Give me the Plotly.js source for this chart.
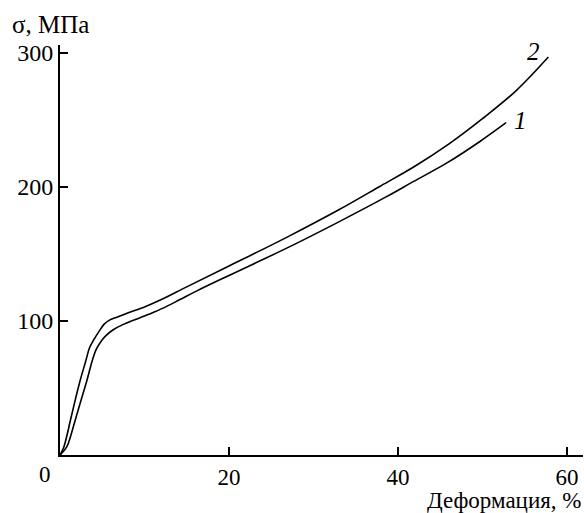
<!DOCTYPE html>
<html>
<head>
<meta charset="utf-8">
<script src="https://cdn.plot.ly/plotly-3.0.1.min.js"></script>
<style>html,body{margin:0;padding:0;background:#fff;}#chart{width:584px;height:513px;}</style>
</head>
<body>
<div id="chart"></div>
<script>
// Curve 1 (lower)
const strain1 = [0, 0.8, 1.3, 1.8, 2.5, 3.2, 3.8, 4.3, 5, 5.5, 6.3, 7.5, 8.7, 10.5, 12.2, 14.2, 16.2, 20, 27.2, 33, 38.7, 41.8, 45.8, 49.7, 52.8];
const stress1 = [0, 6, 15, 26, 41, 56, 70, 79, 86, 89.5, 93.5, 97.5, 100.5, 105, 109.6, 116, 122.5, 134, 155.5, 174, 193, 204, 218, 234, 248];
// Curve 2 (upper)
const strain2 = [0, 0.4, 0.8, 1.2, 1.8, 2.4, 3, 3.5, 4, 4.7, 5.2, 5.8, 6.8, 8, 10, 12, 15, 20, 27, 33, 38, 42, 46, 50, 54, 57.8];
const stress2 = [0, 5, 14, 25, 41, 56, 69, 80, 86, 93, 97.5, 100.5, 103, 106, 110.5, 116, 125.5, 141, 163, 183, 201, 215.5, 232, 251, 272, 297];
const curveLabels = ["1", "2"];
const xTicks = [20, 40, 60];
const yTicks = [100, 200, 300];

const font = "'Liberation Serif', serif";
const lineStyle = {color: "#000", width: 1.6, shape: "spline", smoothing: 1};

const traces = [
  {x: strain1, y: stress1, mode: "lines", line: lineStyle, hoverinfo: "skip"},
  {x: strain2, y: stress2, mode: "lines", line: lineStyle, hoverinfo: "skip"}
];

const layout = {
  width: 584, height: 513,
  margin: {l: 60, r: 1, t: 45, b: 58},
  paper_bgcolor: "#fff", plot_bgcolor: "#fff",
  showlegend: false,
  font: {family: font, size: 24, color: "#000"},
  xaxis: {
    range: [0, 61.9], tickvals: xTicks, ticktext: xTicks.map(String),
    showline: true, linewidth: 2, linecolor: "#000",
    ticks: "inside", ticklen: 8, tickwidth: 2, tickcolor: "#000",
    showgrid: false, zeroline: false, fixedrange: true,
    tickfont: {family: font, size: 23}
  },
  yaxis: {
    range: [0, 306], tickvals: yTicks, ticktext: yTicks.map(String),
    showline: true, linewidth: 2, linecolor: "#000",
    ticks: "inside", ticklen: 8, tickwidth: 2, tickcolor: "#000",
    showgrid: false, zeroline: false, fixedrange: true,
    tickfont: {family: font, size: 24}
  },
  annotations: [
    {xref: "paper", yref: "paper", x: -0.028, y: 0, xanchor: "center", yanchor: "top", yshift: -5,
     text: "0", showarrow: false, font: {family: font, size: 23}},
    {xref: "paper", yref: "paper", x: -0.096, y: 1, xanchor: "left", yanchor: "bottom", yshift: 5,
     text: "σ, МПа", showarrow: false, font: {family: font, size: 25}},
    {xref: "paper", yref: "paper", x: 1, y: 0, xanchor: "right", yanchor: "top", yshift: -31,
     text: "Деформация, %", showarrow: false, font: {family: font, size: 23}},
    {xref: "x", yref: "y", x: strain1[strain1.length-1], y: stress1[stress1.length-1], xanchor: "left", yanchor: "middle",
     xshift: 6, yshift: 2, text: "<i>" + curveLabels[0] + "</i>", showarrow: false, font: {family: font, size: 25}},
    {xref: "x", yref: "y", x: strain2[strain2.length-1], y: stress2[stress2.length-1], xanchor: "right", yanchor: "middle",
     xshift: -6, yshift: 6, text: "<i>" + curveLabels[1] + "</i>", showarrow: false, font: {family: font, size: 25}}
  ]
};

Plotly.newPlot("chart", traces, layout, {staticPlot: true, displayModeBar: false});
</script>
</body>
</html>
